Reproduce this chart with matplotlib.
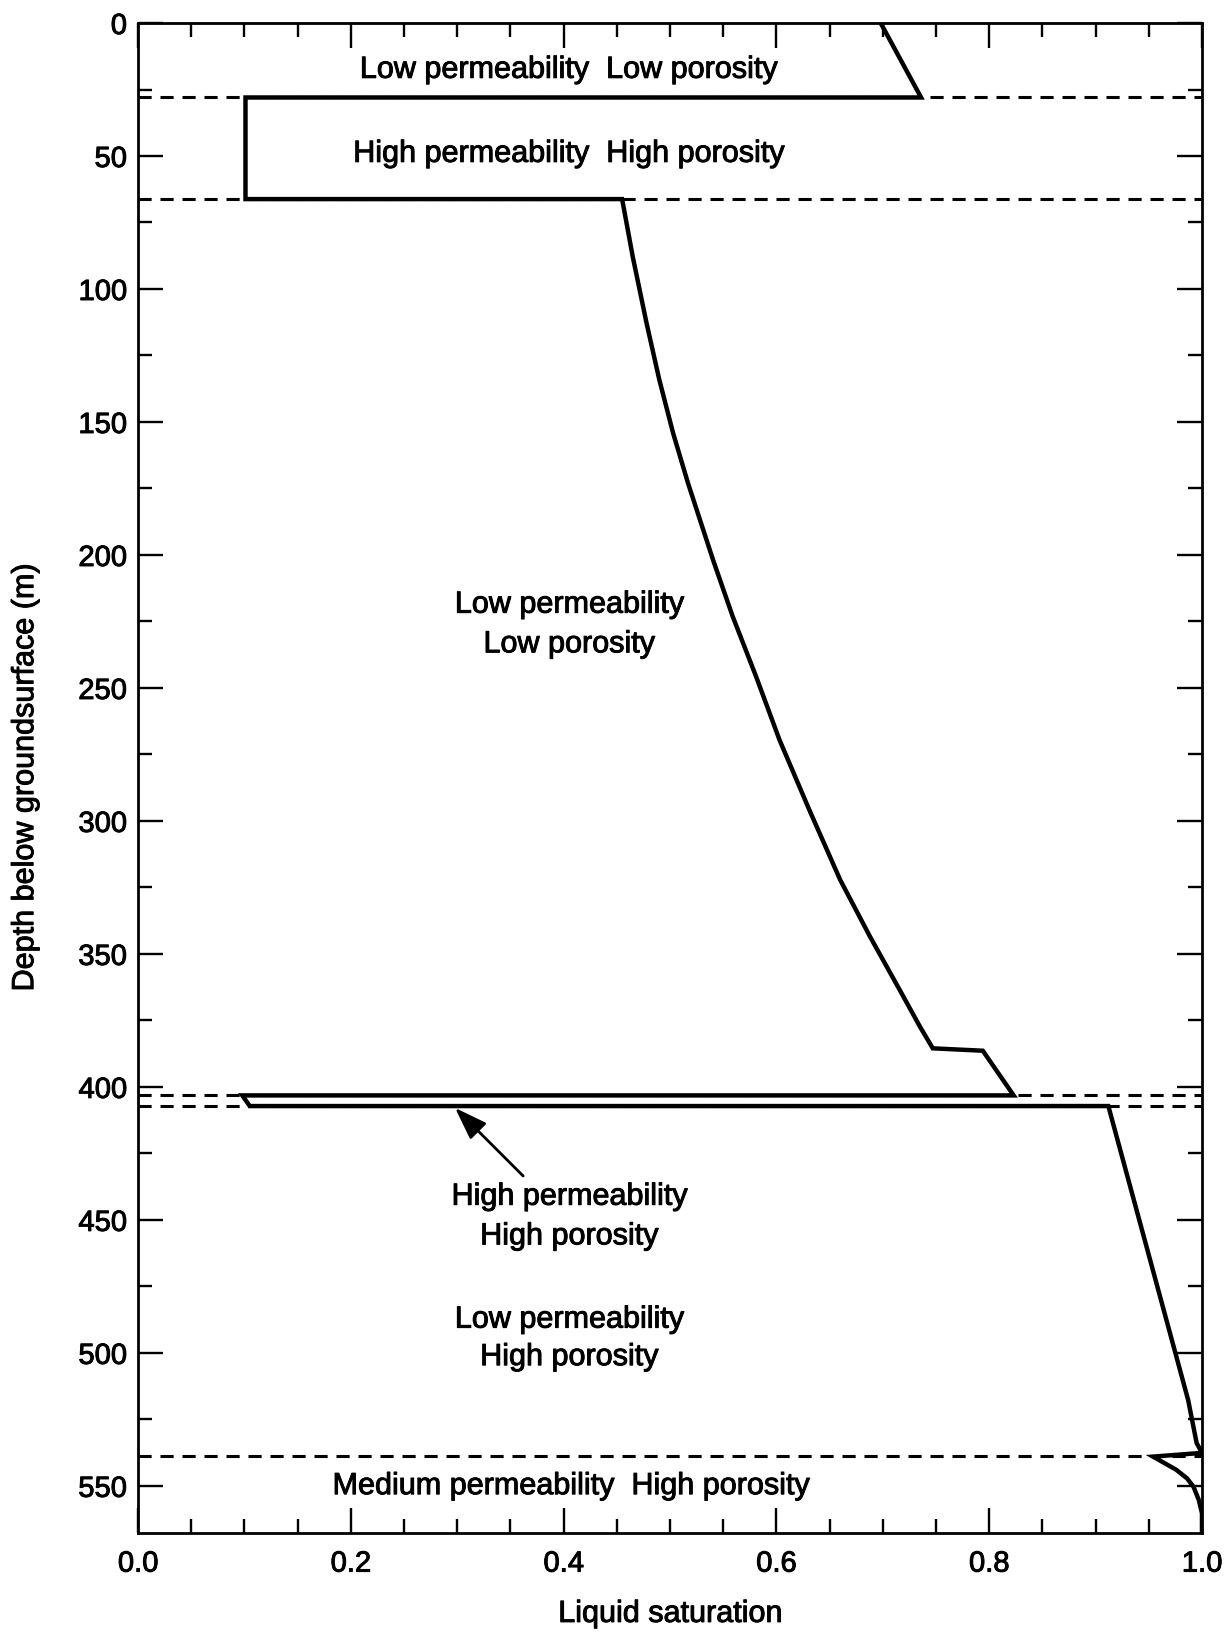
import numpy as np
import matplotlib
matplotlib.use("Agg")
import matplotlib.pyplot as plt
import matplotlib.patheffects as pe
from matplotlib.ticker import MultipleLocator, FormatStrFormatter

plt.rcParams['font.family'] = ['Liberation Sans', 'DejaVu Sans']

# saturation profile (x = liquid saturation, y = depth in m)
sat = [0.698, 0.736, 0.101, 0.101,
       0.455, 0.465, 0.478, 0.490, 0.503, 0.517, 0.5405, 0.559, 0.581,
       0.603, 0.631, 0.660, 0.688, 0.716, 0.735, 0.747,
       0.794, 0.823, 0.098, 0.105, 0.912, 0.987, 0.995, 1.0, 0.954,
       0.976, 0.986, 0.992, 0.997, 1.0, 1.0]
depth = [0.0, 28.0, 28.0, 66.2,
         66.2, 87.9, 112.9, 134.2, 154.3, 173.1, 201.9, 223.2, 245.8,
         269.6, 295.9, 322.2, 343.5, 363.6, 377.4, 385.5,
         386.4, 403.2, 403.2, 407.2, 407.2, 517.7, 533.9, 537.6, 539.0,
         544.0, 547.2, 550.3, 555.3, 560.3, 567.7]

# layer boundaries
boundaries = [28.0, 66.2, 403.2, 407.2, 538.8]

# layer labels
labels = ["Low permeability  Low porosity", "High permeability  High porosity",
          "Low permeability", "Low porosity",
          "High permeability", "High porosity",
          "Low permeability", "High porosity",
          "Medium permeability  High porosity"]
label_x = [0.404, 0.404, 0.405, 0.405, 0.405, 0.405, 0.405, 0.405, 0.406]
label_depth = [17.6, 49.2, 218.7, 233.6, 441.3, 456.2, 487.5, 501.6, 550.1]

arrow_tip = (0.298, 407.9)
arrow_tail = (0.362, 433.5)

ink = [pe.withStroke(linewidth=0.7, foreground='black')]

fig = plt.figure(figsize=(12.28, 16.32), dpi=100)
ax = fig.add_axes([0.1124, 0.0607, 0.8664, 0.9252])

for b in boundaries:
    ax.axhline(b, color='black', lw=2.2, dashes=(4.3, 2.9), zorder=1)

ax.plot(sat, depth, color='black', lw=3.2, solid_joinstyle='miter', zorder=3)

for t, x, y in zip(labels, label_x, label_depth):
    ax.text(x, y, t, ha='center', va='center', fontsize=22, zorder=4,
            path_effects=ink)

ax.annotate('', xy=arrow_tip, xytext=arrow_tail,
            arrowprops=dict(arrowstyle='-|>,head_length=1.0,head_width=0.35',
                            mutation_scale=20, lw=2, color='black',
                            shrinkA=0, shrinkB=0))

ax.set_xlim(0, 1.0)
ax.set_ylim(567.7, 0)
ax.xaxis.set_major_locator(MultipleLocator(0.2))
ax.xaxis.set_minor_locator(MultipleLocator(0.05))
ax.xaxis.set_major_formatter(FormatStrFormatter('%.1f'))
ax.yaxis.set_major_locator(MultipleLocator(50))
ax.yaxis.set_minor_locator(MultipleLocator(25))

ax.tick_params(which='both', direction='in', top=True, right=True, width=1.7,
               labelsize=21)
ax.tick_params(which='major', length=18)
ax.tick_params(which='minor', length=10)
ax.tick_params(axis='x', pad=12)
ax.tick_params(axis='y', pad=8)
for s in ax.spines.values():
    s.set_linewidth(2)
for lab in ax.get_xticklabels() + ax.get_yticklabels():
    lab.set_path_effects(ink)

ax.set_xlabel('Liquid saturation', fontsize=22, path_effects=ink)
ax.set_ylabel('Depth below groundsurface (m)', fontsize=22, path_effects=ink)
ax.xaxis.set_label_coords(0.5, -0.0437)
ax.yaxis.set_label_coords(-0.092, 0.5)

fig.savefig('out.png', dpi=100)
